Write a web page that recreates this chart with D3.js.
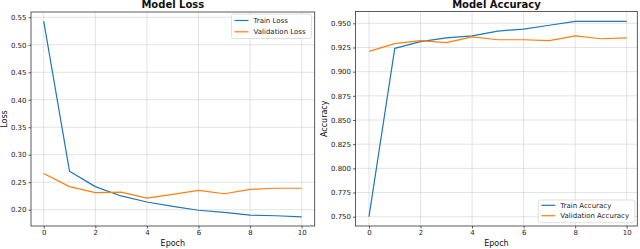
<!DOCTYPE html>
<html><head><meta charset="utf-8">
<script src="https://cdn.jsdelivr.net/npm/d3@7/dist/d3.min.js"></script>
<style>
html,body{margin:0;padding:0;background:#fff;}
svg{display:block;font-family:"DejaVu Sans",sans-serif;}
</style></head>
<body>
<svg id="c" width="640" height="249"></svg>
<script>
const epochs = [0,1,2,3,4,5,6,7,8,9,10];
const trainLoss = [0.543,0.270,0.242,0.225,0.214,0.206,0.199,0.195,0.190,0.189,0.187];
const valLoss   = [0.266,0.242,0.231,0.232,0.221,0.228,0.235,0.229,0.237,0.239,0.239];
const trainAcc  = [0.750,0.924,0.931,0.935,0.937,0.942,0.944,0.948,0.952,0.952,0.952];
const valAcc    = [0.921,0.929,0.932,0.930,0.936,0.933,0.933,0.932,0.937,0.934,0.935];
const xTicks = [0,2,4,6,8,10];
const lossTicks = [0.20,0.25,0.30,0.35,0.40,0.45,0.50,0.55];
const accTicks = [0.750,0.775,0.800,0.825,0.850,0.875,0.900,0.925,0.950];

const BLUE = "#1f77b4", ORANGE = "#ff7f0e";
const svg = d3.select("#c");

function panel(o){
  const g = svg.append("g");
  const x = d3.scaleLinear().domain([0,10]).range([o.x0, o.x10]);
  const y = d3.scaleLinear().domain(o.yd).range(o.yr);
  // grid
  g.append("g").selectAll("line").data(xTicks).join("line")
    .attr("x1", d=>x(d)).attr("x2", d=>x(d)).attr("y1", o.top).attr("y2", o.bottom)
    .attr("stroke","#b0b0b0").attr("stroke-opacity",0.45).attr("stroke-width",0.8);
  g.append("g").selectAll("line").data(o.yTicks).join("line")
    .attr("x1", o.left).attr("x2", o.right).attr("y1", d=>y(d)).attr("y2", d=>y(d))
    .attr("stroke","#b0b0b0").attr("stroke-opacity",0.45).attr("stroke-width",0.8);
  // lines
  const clipId = "clip"+o.id;
  svg.append("clipPath").attr("id",clipId).append("rect")
    .attr("x",o.left).attr("y",o.top).attr("width",o.right-o.left).attr("height",o.bottom-o.top);
  const line = d3.line().x((d,i)=>x(epochs[i])).y(d=>y(d));
  const lg = g.append("g").attr("clip-path",`url(#${clipId})`);
  lg.append("path").attr("d", line(o.s1)).attr("fill","none").attr("stroke",BLUE).attr("stroke-width",1.2).attr("stroke-linejoin","round");
  lg.append("path").attr("d", line(o.s2)).attr("fill","none").attr("stroke",ORANGE).attr("stroke-width",1.2).attr("stroke-linejoin","round");
  // frame
  g.append("rect").attr("x",o.left).attr("y",o.top).attr("width",o.right-o.left).attr("height",o.bottom-o.top)
    .attr("fill","none").attr("stroke","#333").attr("stroke-width",0.8);
  // axes
  const xa = g.append("g").attr("transform",`translate(0,${o.bottom})`)
    .call(d3.axisBottom(x).tickValues(xTicks).tickFormat(d3.format("d")).tickSize(2.5).tickPadding(2));
  const ya = g.append("g").attr("transform",`translate(${o.left},0)`)
    .call(d3.axisLeft(y).tickValues(o.yTicks).tickFormat(d3.format(o.fmt)).tickSize(2.5).tickPadding(2));
  [xa,ya].forEach(a=>{
    a.select(".domain").remove();
    a.selectAll("line").attr("stroke","#333").attr("stroke-width",0.8);
    a.selectAll("text").attr("font-size",7).attr("fill","#222").attr("font-family","DejaVu Sans");
  });
  // title
  g.append("text").attr("x",(o.left+o.right)/2).attr("y",8.3).attr("text-anchor","middle")
    .attr("font-size",10).attr("font-weight","bold").attr("fill","#111").text(o.title);
  g.append("text").attr("x",(o.left+o.right)/2).attr("y",246).attr("text-anchor","middle")
    .attr("font-size",8).attr("fill","#111").text("Epoch");
  g.append("text").attr("transform",`translate(${o.ylabX},${(o.top+o.bottom)/2}) rotate(-90)`)
    .attr("text-anchor","middle").attr("font-size",8).attr("fill","#111").text(o.ylab);
  // legend
  const L = o.leg;
  g.append("rect").attr("x",L.x).attr("y",L.y).attr("width",L.w).attr("height",L.h).attr("rx",2)
    .attr("fill","#fff").attr("fill-opacity",0.85).attr("stroke","#d8d8d8").attr("stroke-width",0.8);
  [[BLUE,o.n1],[ORANGE,o.n2]].forEach((e,i)=>{
    const yy = L.y + L.r0 + i*L.dy;
    g.append("line").attr("x1",L.x+3).attr("x2",L.x+17).attr("y1",yy).attr("y2",yy)
      .attr("stroke",e[0]).attr("stroke-width",1.2);
    g.append("text").attr("x",L.x+22).attr("y",yy+2.5).attr("font-size",7).attr("fill","#222").text(e[1]);
  });
}

panel({id:1, left:31, right:314.7, top:12, bottom:226, x0:43.7, x10:301.7,
  yd:[0.20,0.55], yr:[209.7,17.3], yTicks:lossTicks, fmt:".2f",
  s1:trainLoss, s2:valLoss, n1:"Train Loss", n2:"Validation Loss",
  title:"Model Loss", ylab:"Loss", ylabX:7,
  leg:{x:231.5, y:14, w:80, h:24.5, r0:6.5, dy:11.3}});
panel({id:2, left:355.5, right:637.3, top:11.5, bottom:226, x0:369, x10:626.7,
  yd:[0.75,0.95], yr:[216.7,23.3], yTicks:accTicks, fmt:".3f",
  s1:trainAcc, s2:valAcc, n1:"Train Accuracy", n2:"Validation Accuracy",
  title:"Model Accuracy", ylab:"Accuracy", ylabX:327,
  leg:{x:538.3, y:200, w:96.5, h:22.7, r0:5.3, dy:10.4}});
</script>
</body></html>
